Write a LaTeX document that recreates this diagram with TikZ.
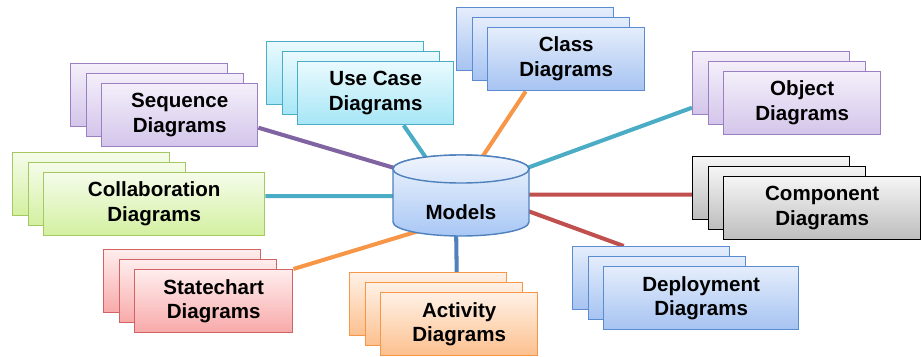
\documentclass[tikz,border=0pt]{standalone}
\usepackage{fontspec}
\setmainfont{Liberation Sans}
\usetikzlibrary{calc, backgrounds}

\definecolor{purpledraw}{HTML}{9A80C0}
\definecolor{purpletop}{HTML}{F4EFFA}
\definecolor{purplebottom}{HTML}{D3C5EA}
\definecolor{cyandraw}{HTML}{4BACC6}
\definecolor{cyantop}{HTML}{E9FAFE}
\definecolor{cyanbottom}{HTML}{A6E6F6}
\definecolor{bluedraw}{HTML}{5B8BD0}
\definecolor{bluetop}{HTML}{E4EDFB}
\definecolor{bluebottom}{HTML}{A6C3F2}
\definecolor{greendraw}{HTML}{A5C860}
\definecolor{greentop}{HTML}{F5FCEA}
\definecolor{greenbottom}{HTML}{D3F0A0}
\definecolor{graydraw}{HTML}{000000}
\definecolor{graytop}{HTML}{F5F5F5}
\definecolor{graybottom}{HTML}{BDBDBD}
\definecolor{reddraw}{HTML}{D06464}
\definecolor{redtop}{HTML}{FFEDED}
\definecolor{redbottom}{HTML}{F8A9A9}
\definecolor{orangedraw}{HTML}{F79646}
\definecolor{orangetop}{HTML}{FFF1E6}
\definecolor{orangebottom}{HTML}{FCC08E}
\definecolor{modeldraw}{HTML}{4F81BD}
\definecolor{modeltop}{HTML}{F0F5FD}
\definecolor{modelmid}{HTML}{D8E5FA}
\definecolor{modelbottom}{HTML}{A8C7F5}
\definecolor{purpleline}{HTML}{8064A2}
\definecolor{tealline}{HTML}{4BACC6}
\definecolor{orangeline}{HTML}{F79646}
\definecolor{redline}{HTML}{C0504D}
\definecolor{blueline}{HTML}{4F81BD}

\begin{document}
\begin{tikzpicture}[x = 0.02cm, y = 0.02cm,
		panel/.style = {rectangle, line width = 0.8pt, inner sep = 0pt, minimum height = 63*0.02cm, align = center, font = \fontsize{11.7}{14.2}\selectfont\bfseries},
		link/.style = {line width = 2.3pt}]
	\useasboundingbox (0,0) rectangle (921,356);

	% three stacked panels per diagram kind, back copies first
	\foreach \nm/\x/\y/\w/\dc/\tc/\bc/\txt in {
			seq/70/293/156/purpledraw/purpletop/purplebottom/{Sequence\\Diagrams},
			use/266/315/156/cyandraw/cyantop/cyanbottom/{Use Case\\Diagrams},
			cls/456/349/157/bluedraw/bluetop/bluebottom/{Class\\Diagrams},
			obj/692/305/157/purpledraw/purpletop/purplebottom/{Object\\Diagrams},
			col/12/204/221/greendraw/greentop/greenbottom/{Collaboration\\Diagrams},
			cmp/692/200/197/graydraw/graytop/graybottom/{Component\\Diagrams},
			dep/572/110/195/bluedraw/bluetop/bluebottom/{Deployment\\Diagrams},
			stc/103/107/158/reddraw/redtop/redbottom/{Statechart\\Diagrams},
			act/349/84/157/orangedraw/orangetop/orangebottom/{Activity\\Diagrams}}
	{
		\node [panel, draw = \dc, top color = \tc, bottom color = \bc, minimum width = 157*0.02cm, anchor = north west] (\nm-1) at (\x,\y) {};
		\node [panel, draw = \dc, top color = \tc, bottom color = \bc, minimum width = 157*0.02cm, anchor = north west] (\nm-2) at (\x+15.5,\y-10) {};
		\node [panel, draw = \dc, top color = \tc, bottom color = \bc, minimum width = \w*0.02cm, anchor = north west] (\nm) at (\x+31,\y-20) {\txt};
	}

	% the model store
	\shade [draw = modeldraw, line width = 0.8pt, top color = modeltop, bottom color = modelbottom]
		(393,187) -- (393,134) arc [start angle = 180, end angle = 360, x radius = 68, y radius = 14]
		-- (529,187) arc [start angle = 0, end angle = 180, x radius = 68, y radius = 14] -- cycle;
	\shade [draw = modeldraw, line width = 0.8pt, top color = modeltop, bottom color = modelmid]
		(461,187) ellipse [x radius = 68, y radius = 14];
	\node [font = \fontsize{11.7}{14.2}\selectfont\bfseries] (models) at (461,143.5) {Models};

	\begin{scope}[on background layer]
		\draw [link, purpleline] ($(seq.east)+(0,-12.5)$) -- ($(models)+(-21,31)$);
		\draw [link, tealline] ($(use.south)+(28,0)$) -- ($(models)+(-20,33)$);
		\draw [link, orangeline] ($(cls.south)+(-40.5,0)$) -- ($(models)+(9,37)$);
		\draw [link, tealline] ($(obj-1.west)+(0,-24.5)$) -- ($(models)+(29,31)$);
		\draw [link, tealline] ($(col.east)+(0,8)$) -- ($(models)+(0,16.5)$);
		\draw [link, redline] ($(cmp-1.west)+(0,-6.5)$) -- ($(models)+(0,18)$);
		\draw [link, redline] ($(dep-1.north)+(-27.5,0)$) -- ($(models)+(19,19)$);
		\draw [link, orangeline] (stc.north east) -- ($(models)+(-11,-9)$);
		\draw [link, blueline] ($(act-1.north)+(28.5,0)$) -- ($(models)+(-5,-10)$);
	\end{scope}
\end{tikzpicture}
\end{document}
